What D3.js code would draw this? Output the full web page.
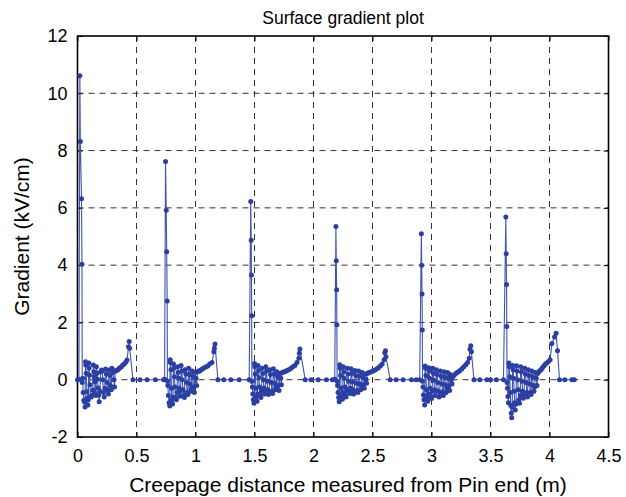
<!DOCTYPE html>
<html><head><meta charset="utf-8">
<script src="https://cdn.jsdelivr.net/npm/d3@7"></script>
<style>
html,body{margin:0;padding:0;background:#fff;}
svg{display:block;}
text{font-family:"Liberation Sans",Arial,Helvetica,sans-serif;fill:#000;}
</style></head>
<body>
<svg id="chart" width="626" height="497"></svg>
<script>
// ---- data ----
const chartTitle = "Surface gradient plot";
const xLabel = "Creepage distance measured from Pin end (m)";
const yLabel = "Gradient (kV/cm)";
const xTicks = [0, 0.5, 1, 1.5, 2, 2.5, 3, 3.5, 4, 4.5];
const yTicks = [-2, 0, 2, 4, 6, 8, 10, 12];

const seg1 = [
[0.000,0.00],[0.012,0.02],[0.020,10.61],[0.024,8.32],[0.034,6.32],[0.038,4.03],[0.040,-0.10],
[0.044,0.05],[0.048,-0.45],[0.054,-0.72],[0.060,-0.78],[0.064,-0.95],[0.068,0.63],[0.070,0.51],[0.074,0.23],
[0.080,-0.42],[0.084,-0.64],[0.088,-0.88],[0.092,-0.70],[0.096,0.58],[0.098,0.41],[0.102,0.16],[0.106,-0.18],
[0.110,-0.59],[0.116,-0.60],[0.124,-0.53],[0.130,-0.36],[0.134,0.51],[0.138,0.28],[0.142,0.10],[0.146,-0.07],
[0.150,-0.47],[0.156,-0.55],[0.160,0.45],[0.166,0.23],[0.170,0.02],[0.174,-0.29],[0.180,-0.53],[0.184,-0.77],
[0.190,-0.40],[0.196,0.28],[0.204,0.34],[0.210,0.30],[0.214,0.00],[0.220,-0.45],[0.226,-0.60],[0.232,-0.30],
[0.238,0.37],[0.244,0.20],[0.250,-0.10],[0.256,-0.38],[0.262,-0.50],[0.268,0.34],[0.274,0.15],[0.280,-0.20],
[0.286,-0.35],[0.292,0.40],[0.300,0.25],[0.308,0.00],[0.314,-0.25],[0.320,0.30],[0.330,0.32],[0.340,0.34],
[0.350,0.38],[0.360,0.42],[0.372,0.45],[0.384,0.51],[0.396,0.55],[0.410,0.62],[0.420,0.69],[0.432,1.15],
[0.438,1.33],[0.442,1.10],[0.470,0.00],[0.530,0.00],[0.590,0.00],[0.660,0.00]
];
const seg2 = [
[0.730,0.00],[0.738,0.02],[0.746,7.62],[0.752,5.92],[0.756,4.47],[0.760,2.75],[0.762,-0.05],
[0.766,-0.20],[0.770,-0.55],[0.776,-0.80],[0.782,-0.92],[0.786,0.70],[0.788,0.60],[0.792,0.35],[0.796,-0.30],
[0.800,-0.70],[0.806,-0.85],[0.810,-0.60],[0.814,0.55],[0.818,0.40],[0.822,0.10],[0.826,-0.25],[0.832,-0.62],
[0.838,-0.70],[0.844,-0.45],[0.848,0.45],[0.852,0.25],[0.858,0.05],[0.862,-0.30],[0.868,-0.58],[0.874,-0.40],
[0.878,0.50],[0.884,0.30],[0.888,0.00],[0.894,-0.35],[0.900,-0.55],[0.906,-0.62],[0.912,0.35],[0.918,0.20],
[0.924,-0.10],[0.930,-0.45],[0.936,-0.52],[0.942,0.40],[0.948,0.18],[0.954,-0.15],[0.960,-0.40],[0.966,-0.30],
[0.972,0.30],[0.978,0.10],[0.984,-0.25],[0.990,-0.45],[0.996,0.25],[1.004,0.05],[1.010,-0.20],[1.016,0.28],
[1.026,0.30],[1.036,0.30],[1.048,0.35],[1.060,0.38],[1.074,0.42],[1.090,0.45],[1.104,0.48],[1.120,0.55],
[1.140,0.60],[1.156,0.98],[1.160,1.10],[1.165,1.25],[1.190,0.00],[1.240,0.00],[1.300,0.00],[1.370,0.00]
];
const seg3 = [
[1.455,0.00],[1.468,6.22],[1.472,4.87],[1.474,3.66],[1.476,2.23],[1.478,-0.05],
[1.482,-0.25],[1.486,-0.50],[1.490,-0.70],[1.496,-0.82],[1.500,0.57],[1.503,0.45],[1.507,0.20],[1.512,-0.30],
[1.516,-0.60],[1.522,-0.75],[1.526,-0.50],[1.530,0.50],[1.534,0.32],[1.538,0.08],[1.543,-0.25],[1.548,-0.55],
[1.554,-0.62],[1.560,-0.40],[1.564,0.40],[1.570,0.22],[1.575,0.00],[1.580,-0.30],[1.586,-0.50],[1.592,-0.35],
[1.596,0.45],[1.602,0.30],[1.607,-0.05],[1.612,-0.35],[1.618,-0.52],[1.624,-0.45],[1.630,0.35],[1.636,0.18],
[1.642,-0.10],[1.648,-0.40],[1.654,-0.48],[1.660,0.38],[1.666,0.20],[1.672,-0.12],[1.678,-0.35],[1.684,-0.25],
[1.690,0.28],[1.696,0.10],[1.702,-0.20],[1.708,-0.38],[1.714,0.22],[1.722,0.05],[1.728,-0.18],[1.734,0.25],
[1.744,0.27],[1.756,0.28],[1.768,0.30],[1.780,0.33],[1.794,0.36],[1.810,0.40],[1.826,0.45],[1.842,0.50],
[1.860,0.60],[1.876,0.75],[1.880,0.92],[1.885,1.07],[1.930,0.00],[1.980,0.00],[2.040,0.00],[2.110,0.00]
];
const seg4 = [
[2.160,0.00],[2.180,0.02],[2.190,5.35],[2.193,4.15],[2.196,3.14],[2.198,1.92],[2.200,-0.05],
[2.204,-0.20],[2.208,-0.45],[2.213,-0.62],[2.218,-0.77],[2.222,0.52],[2.225,0.40],[2.229,0.15],[2.234,-0.30],
[2.238,-0.55],[2.244,-0.68],[2.248,-0.45],[2.252,0.45],[2.256,0.28],[2.260,0.05],[2.265,-0.25],[2.270,-0.52],
[2.276,-0.60],[2.282,-0.38],[2.286,0.40],[2.292,0.20],[2.297,-0.05],[2.302,-0.32],[2.308,-0.48],[2.314,-0.30],
[2.318,0.38],[2.324,0.22],[2.329,-0.08],[2.334,-0.35],[2.340,-0.50],[2.346,-0.40],[2.352,0.32],[2.358,0.15],
[2.364,-0.12],[2.370,-0.38],[2.376,-0.45],[2.382,0.30],[2.388,0.12],[2.394,-0.15],[2.400,-0.35],[2.406,-0.22],
[2.412,0.25],[2.418,0.08],[2.424,-0.18],[2.430,-0.30],[2.436,0.20],[2.444,0.02],[2.450,-0.12],[2.456,0.22],
[2.466,0.24],[2.478,0.26],[2.490,0.28],[2.504,0.30],[2.518,0.33],[2.534,0.37],[2.550,0.42],[2.566,0.48],
[2.582,0.55],[2.598,0.70],[2.604,0.94],[2.610,1.01],[2.614,0.80],[2.650,0.00],[2.700,0.00],[2.760,0.00],
[2.830,0.00],[2.870,0.00]
];
const seg5 = [
[2.900,0.00],[2.914,5.10],[2.917,4.00],[2.920,2.99],[2.922,1.74],[2.924,-0.05],
[2.928,-0.25],[2.932,-0.53],[2.936,-0.70],[2.942,-0.88],[2.946,0.48],[2.949,0.40],[2.953,0.15],[2.958,-0.35],
[2.962,-0.62],[2.968,-0.75],[2.972,-0.50],[2.976,0.42],[2.980,0.30],[2.984,0.05],[2.989,-0.30],[2.994,-0.58],
[3.000,-0.66],[3.006,-0.40],[3.010,0.40],[3.016,0.22],[3.021,-0.02],[3.026,-0.35],[3.032,-0.55],[3.038,-0.38],
[3.042,0.35],[3.048,0.18],[3.053,-0.10],[3.058,-0.40],[3.064,-0.60],[3.070,-0.45],[3.076,0.30],[3.082,0.12],
[3.088,-0.15],[3.094,-0.42],[3.100,-0.55],[3.106,0.28],[3.112,0.10],[3.118,-0.18],[3.124,-0.45],[3.130,-0.30],
[3.136,0.25],[3.142,0.05],[3.148,-0.22],[3.154,-0.38],[3.160,0.18],[3.168,0.00],[3.174,-0.15],[3.180,0.10],
[3.190,0.15],[3.202,0.20],[3.214,0.24],[3.228,0.28],[3.242,0.32],[3.258,0.38],[3.274,0.45],[3.290,0.52],
[3.306,0.60],[3.320,0.75],[3.326,1.06],[3.333,1.19],[3.338,0.98],[3.360,0.00],[3.410,0.00],[3.470,0.00],
[3.500,0.00],[3.550,0.00],[3.610,0.00]
];
const seg6 = [
[3.630,5.68],[3.633,4.40],[3.636,3.32],[3.638,1.86],[3.640,-0.10],
[3.644,-0.30],[3.648,-0.59],[3.652,-0.80],[3.656,0.58],[3.659,0.45],[3.663,0.10],[3.668,-0.45],[3.672,-0.90],
[3.676,-1.17],[3.680,-1.33],[3.684,-0.95],[3.688,0.50],[3.692,0.35],[3.696,0.05],[3.700,-0.40],[3.705,-0.80],
[3.710,-1.06],[3.716,-0.85],[3.720,0.49],[3.725,0.30],[3.730,0.00],[3.735,-0.35],[3.740,-0.70],[3.746,-0.82],
[3.752,-0.55],[3.756,0.45],[3.762,0.28],[3.767,-0.05],[3.772,-0.40],[3.778,-0.65],[3.784,-0.50],[3.790,0.40],
[3.796,0.20],[3.802,-0.10],[3.808,-0.45],[3.814,-0.60],[3.820,0.35],[3.826,0.15],[3.832,-0.15],[3.838,-0.45],
[3.844,-0.52],[3.850,0.30],[3.856,0.10],[3.862,-0.20],[3.868,-0.40],[3.874,-0.25],[3.880,0.25],[3.888,0.05],
[3.894,-0.20],[3.900,0.22],[3.910,0.28],[3.920,0.32],[3.930,0.36],[3.940,0.42],[3.952,0.48],[3.964,0.54],
[3.976,0.58],[3.990,0.63],[4.005,0.70],[4.020,1.26],[4.043,1.49],[4.056,1.62],[4.068,1.01],[4.085,0.00],
[4.130,0.00],[4.190,0.00],[4.210,0.00]
];

// ---- drawing ----
const data = [].concat(seg1, seg2, seg3, seg4, seg5, seg6);
const L = 77.5, R = 608.5, T = 36, B = 437;
const x = d3.scaleLinear().domain([0, 4.5]).range([L, R]);
const y = d3.scaleLinear().domain([-2, 12]).range([B, T]);
const svg = d3.select("#chart");
const FONT = '"Liberation Sans",Arial,sans-serif';

// grid
const grid = svg.append("g");
grid.selectAll("line.gx").data(xTicks.slice(1, -1)).join("line")
  .attr("x1", d => x(d)).attr("x2", d => x(d)).attr("y1", T).attr("y2", B)
  .attr("stroke", "#333").attr("stroke-width", 1).attr("stroke-dasharray", "6,5");
grid.selectAll("line.gy").data(yTicks.slice(1, -1)).join("line")
  .attr("x1", L).attr("x2", R).attr("y1", d => y(d)).attr("y2", d => y(d))
  .attr("stroke", "#333").attr("stroke-width", 1).attr("stroke-dasharray", "6,5");

// axes with inward ticks
const fmt = d => String(d);
svg.append("g").attr("transform", `translate(0,${B})`)
  .call(d3.axisBottom(x).tickValues(xTicks).tickFormat(fmt).tickSizeInner(-5).tickSizeOuter(0).tickPadding(12))
  .call(g => { g.select(".domain").remove(); g.selectAll("text").attr("font-size", 18).attr("font-family", FONT).attr("fill", "#000"); });
svg.append("g").attr("transform", `translate(${L},0)`)
  .call(d3.axisLeft(y).tickValues(yTicks).tickFormat(fmt).tickSizeInner(-5).tickSizeOuter(0).tickPadding(10))
  .call(g => { g.select(".domain").remove(); g.selectAll("text").attr("font-size", 18).attr("font-family", FONT).attr("fill", "#000"); });
svg.append("g").attr("transform", `translate(0,${T})`)
  .call(d3.axisTop(x).tickValues(xTicks).tickFormat("").tickSizeInner(-5).tickSizeOuter(0))
  .call(g => g.select(".domain").remove());
svg.append("g").attr("transform", `translate(${R},0)`)
  .call(d3.axisRight(y).tickValues(yTicks).tickFormat("").tickSizeInner(-5).tickSizeOuter(0))
  .call(g => g.select(".domain").remove());

// box
svg.append("rect").attr("x", L).attr("y", T).attr("width", R - L).attr("height", B - T)
  .attr("fill", "none").attr("stroke", "#000").attr("stroke-width", 1.6);

// series
svg.append("path").datum(data)
  .attr("d", d3.line().x(d => x(d[0])).y(d => y(d[1])))
  .attr("fill", "none").attr("stroke", "#3f53b3").attr("stroke-width", 1.1);
svg.append("g").selectAll("circle").data(data).join("circle")
  .attr("cx", d => x(d[0])).attr("cy", d => y(d[1])).attr("r", 2.5)
  .attr("fill", "#2b3fa2");

// texts
svg.append("text").attr("x", 343).attr("y", 24).attr("text-anchor", "middle")
  .attr("font-size", 17.5).text(chartTitle);
svg.append("text").attr("x", 348).attr("y", 492).attr("text-anchor", "middle")
  .attr("font-size", 21).text(xLabel);
svg.append("text").attr("transform", `translate(29,${(T + B) / 2}) rotate(-90)`)
  .attr("text-anchor", "middle").attr("font-size", 21).text(yLabel);
</script>
</body></html>
